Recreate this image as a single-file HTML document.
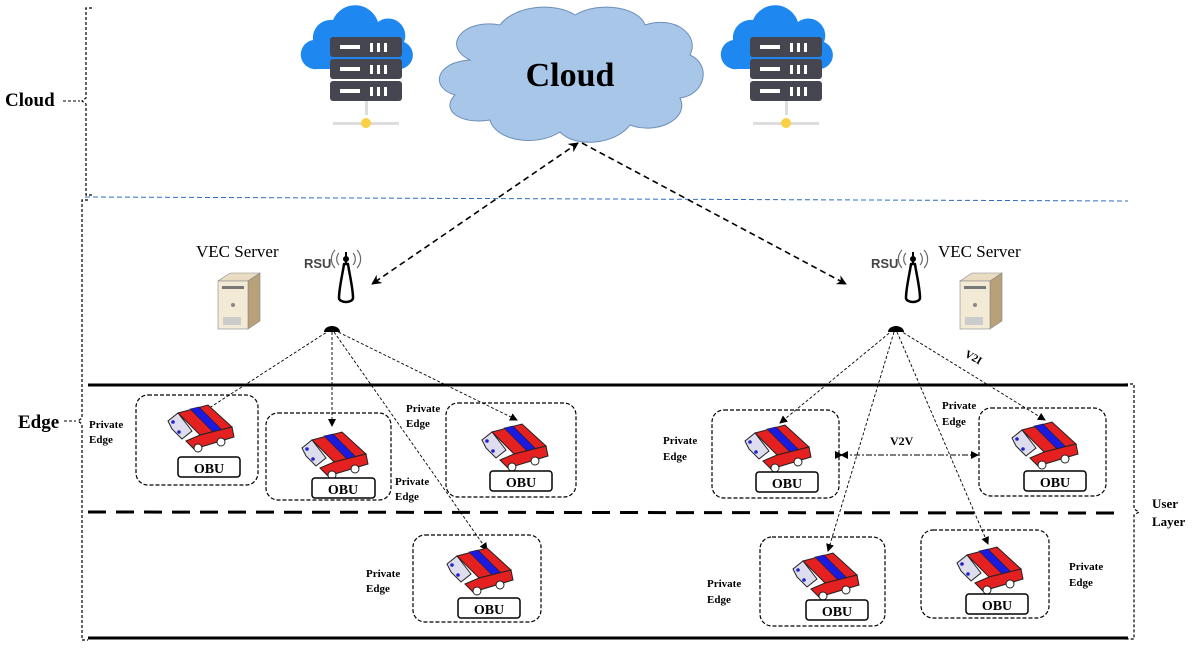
<!DOCTYPE html>
<html><head><meta charset="utf-8"><style>
html,body{margin:0;padding:0;background:#fff;}
svg{display:block;font-family:"Liberation Serif",serif;}
.b{font-weight:bold;}
</style></head><body>
<svg width="1196" height="662" viewBox="0 0 1196 662" xmlns="http://www.w3.org/2000/svg">
<defs>
<marker id="ar" markerWidth="8" markerHeight="8" refX="7" refY="4" orient="auto" markerUnits="userSpaceOnUse"><path d="M0,0 L8,4 L0,8 Z" fill="#000"/></marker>
<marker id="ar2" markerWidth="10" markerHeight="10" refX="9" refY="5" orient="auto" markerUnits="userSpaceOnUse"><path d="M0,0 L10,5 L0,10 L3,5 Z" fill="#000"/></marker>
<marker id="ar2s" markerWidth="10" markerHeight="10" refX="1" refY="5" orient="auto" markerUnits="userSpaceOnUse"><path d="M10,0 L0,5 L10,10 L7,5 Z" fill="#000"/></marker>
<g id="car">
<polygon points="10,8 40,0 64,22 32,30" fill="#e52020" stroke="#222" stroke-width="1"/>
<polygon points="22,4 31,2 54,25 45,27" fill="#1a1ae0" stroke="#222" stroke-width="0.6"/>
<polygon points="18,36 32,30 64,22 66,32 26,44" fill="#e52020" stroke="#222" stroke-width="1"/>
<polygon points="0,16 10,8 24,26 14,34 4,24" fill="#dde" stroke="#222" stroke-width="1"/>
<circle cx="5" cy="17" r="1.8" fill="#22c"/><circle cx="11" cy="27" r="1.8" fill="#22c"/>
<circle cx="30" cy="43" r="4" fill="#fff" stroke="#222"/><circle cx="53" cy="37" r="4" fill="#fff" stroke="#222"/>
</g>
<g id="srv">
<path d="M5,35 a18,18 0 0 1 20,-20 a24,24 0 0 1 45,2 a17,17 0 0 1 26,20 a14,14 0 0 1 -6,27 h-80 a14,14 0 0 1 -5,-29z" fill="#1e88f0"/>
<rect x="22" y="32" width="72" height="20" rx="3" fill="#45464f"/>
<rect x="22" y="54" width="72" height="20" rx="3" fill="#45464f"/>
<rect x="22" y="76" width="72" height="20" rx="3" fill="#45464f"/>
<g fill="#fff"><rect x="32" y="40" width="20" height="4"/><rect x="32" y="62" width="20" height="4"/><rect x="32" y="84" width="20" height="4"/>
<rect x="62" y="38" width="3" height="9"/><rect x="69" y="38" width="3" height="9"/><rect x="76" y="38" width="3" height="9"/>
<rect x="62" y="60" width="3" height="9"/><rect x="69" y="60" width="3" height="9"/><rect x="76" y="60" width="3" height="9"/>
<rect x="62" y="82" width="3" height="9"/><rect x="69" y="82" width="3" height="9"/><rect x="76" y="82" width="3" height="9"/></g>
<rect x="57" y="96" width="3" height="14" fill="#ddd"/><rect x="25" y="117" width="66" height="3" fill="#ddd"/>
<circle cx="58" cy="118" r="5" fill="#fcd043"/>
</g>
<g id="pc">
<polygon points="0,8 12,0 42,0 30,8" fill="#e9dcc2" stroke="#888" stroke-width=".6"/>
<polygon points="30,8 42,0 42,48 30,56" fill="#b8a078" stroke="#888" stroke-width=".6"/>
<rect x="0" y="8" width="30" height="48" fill="#f3ead6" stroke="#888" stroke-width=".6"/>
<rect x="4" y="13" width="22" height="3" fill="#777"/><circle cx="15" cy="32" r="2" fill="#888"/>
<rect x="5" y="44" width="18" height="8" fill="#ccc"/>
</g>
<g id="rsu">
<text x="-36" y="16" font-family="Liberation Sans,sans-serif" font-weight="bold" font-size="13" fill="#444">RSU</text>
<path d="M4,12 C3,20 -1,36 -1,46 a7,4 0 0 0 14,0 C13,36 9,20 8,12 Z" fill="#fff" stroke="#000" stroke-width="2.5" stroke-linejoin="round"/>
<rect x="5" y="0" width="2" height="12" fill="#000"/>
<circle cx="6" cy="7" r="3" fill="#000"/>
<path d="M-1,1 a9,9 0 0 0 0,12 M13,1 a9,9 0 0 1 0,12 M-5,-2 a13,13 0 0 0 0,18 M17,-2 a13,13 0 0 1 0,18" stroke="#666" stroke-width="1.2" fill="none"/>
</g>
</defs>

<path d="M470,60 C440,45 465,18 500,25 C515,5 555,2 575,15 C600,0 640,8 645,25 C675,15 700,35 690,55 C712,65 705,95 680,98 C690,120 655,135 630,125 C615,145 575,148 560,132 C535,148 495,140 490,120 C460,125 440,110 455,95 C430,88 435,62 470,60 Z" fill="#a8c6e8" stroke="#6c8fb8" stroke-width="1"/>
<text x="570" y="86" text-anchor="middle" class="b" font-size="34">Cloud</text>
<use href="#srv" x="308" y="5"/>
<use href="#srv" x="728" y="5"/>

<path d="M92,8 h-6 v90 l-4,3 l4,3 v91 h6" fill="none" stroke="#000" stroke-dasharray="3,2" stroke-width="1.2"/>
<text x="5" y="106" class="b" font-size="19">Cloud</text>
<line x1="63" y1="101" x2="80" y2="101" stroke="#000" stroke-dasharray="3,2"/>
<path d="M88,200 h-6 v218 l-4,3 l4,3 v216 h6" fill="none" stroke="#000" stroke-dasharray="3,2" stroke-width="1.2"/>
<text x="18" y="428" class="b" font-size="19">Edge</text>
<line x1="64" y1="421" x2="76" y2="421" stroke="#000" stroke-dasharray="3,2"/>
<path d="M1125,384 h9 v125 l5,3 l-5,3 v124 h-9" fill="none" stroke="#000" stroke-dasharray="3,2" stroke-width="1.2"/>
<text x="1152" y="508" font-size="13" class="b">User</text>
<text x="1152" y="526" font-size="13" class="b">Layer</text>

<line x1="85" y1="197" x2="1128" y2="201" stroke="#2f6cc0" stroke-dasharray="5,3" stroke-width="1"/>
<line x1="88" y1="385" x2="1128" y2="385" stroke="#000" stroke-width="3"/>
<line x1="88" y1="512" x2="1115" y2="513" stroke="#000" stroke-width="3" stroke-dasharray="18,10"/>
<line x1="88" y1="638" x2="1128" y2="638" stroke="#000" stroke-width="3"/>

<text x="196" y="257" font-size="17">VEC Server</text>
<use href="#pc" x="218" y="273"/>
<use href="#rsu" x="340" y="252"/>
<text x="938" y="257" font-size="17">VEC Server</text>
<use href="#pc" x="960" y="273"/>
<use href="#rsu" x="907" y="252"/>
<path d="M324,332 a8,6 0 0 1 16,0 z" fill="#000"/>
<path d="M888,332 a8,6 0 0 1 16,0 z" fill="#000"/>

<g stroke="#000" stroke-width="1.6" stroke-dasharray="6,4" fill="none">
<line x1="578" y1="143" x2="372" y2="284" marker-end="url(#ar2)" marker-start="url(#ar2s)"/>
<line x1="582" y1="143" x2="846" y2="284" marker-end="url(#ar2)"/>
</g>

<g stroke="#000" stroke-width="0.9" stroke-dasharray="3,2" fill="none" marker-end="url(#ar)">
<line x1="330" y1="330" x2="203" y2="412"/>
<line x1="332" y1="332" x2="332" y2="426"/>
<line x1="334" y1="330" x2="517" y2="420"/>
<line x1="334" y1="332" x2="487" y2="550"/>
<line x1="893" y1="330" x2="780" y2="423"/>
<line x1="894" y1="332" x2="828" y2="551"/>
<line x1="897" y1="332" x2="988" y2="544"/>
<line x1="899" y1="330" x2="1045" y2="420"/>
</g>
<text x="965" y="360" font-size="11" class="b" transform="rotate(30 972 356)">V2I</text>
<line x1="842" y1="455" x2="978" y2="455" stroke="#000" stroke-width="0.9" stroke-dasharray="6,2,2,2" marker-end="url(#ar)" marker-start="url(#ar)"/>
<path d="M848,451 L840,455 L848,459 Z" fill="#000"/>
<text x="890" y="445" font-size="12" class="b">V2V</text>

<g fill="none" stroke="#000" stroke-width="1.2" stroke-dasharray="4,2">
<rect x="136" y="395" width="122" height="90" rx="12"/>
<rect x="266" y="413" width="125" height="87" rx="12"/>
<rect x="446" y="403" width="130" height="94" rx="12"/>
<rect x="413" y="535" width="128" height="87" rx="12"/>
<rect x="712" y="410" width="127" height="88" rx="12"/>
<rect x="979" y="408" width="127" height="88" rx="12"/>
<rect x="760" y="537" width="125" height="89" rx="12"/>
<rect x="921" y="530" width="128" height="88" rx="12"/>
</g>
<use href="#car" x="168" y="405"/>
<use href="#car" x="302" y="432"/>
<use href="#car" x="482" y="424"/>
<use href="#car" x="447" y="548"/>
<use href="#car" x="745" y="425"/>
<use href="#car" x="1012" y="422"/>
<use href="#car" x="793" y="553"/>
<use href="#car" x="957" y="547"/>
<g fill="#fff" stroke="#000" stroke-width="1.5">
<rect x="178" y="457" width="62" height="20" rx="3"/>
<rect x="312" y="478" width="63" height="20" rx="3"/>
<rect x="490" y="471" width="62" height="20" rx="3"/>
<rect x="458" y="598" width="62" height="20" rx="3"/>
<rect x="756" y="472" width="62" height="20" rx="3"/>
<rect x="1024" y="471" width="62" height="20" rx="3"/>
<rect x="806" y="600" width="62" height="20" rx="3"/>
<rect x="966" y="594" width="62" height="20" rx="3"/>
</g>
<g font-size="14" class="b" text-anchor="middle">
<text x="209" y="473">OBU</text><text x="343" y="494">OBU</text><text x="521" y="487">OBU</text>
<text x="489" y="614">OBU</text><text x="787" y="488">OBU</text><text x="1055" y="487">OBU</text>
<text x="837" y="616">OBU</text><text x="997" y="610">OBU</text>
</g>
<g font-size="11" class="b">
<text x="89" y="428">Private</text><text x="89" y="443">Edge</text>
<text x="406" y="412">Private</text><text x="406" y="427">Edge</text>
<text x="395" y="485">Private</text><text x="395" y="500">Edge</text>
<text x="366" y="577">Private</text><text x="366" y="592">Edge</text>
<text x="663" y="444">Private</text><text x="663" y="460">Edge</text>
<text x="942" y="409">Private</text><text x="942" y="425">Edge</text>
<text x="707" y="587">Private</text><text x="707" y="603">Edge</text>
<text x="1069" y="570">Private</text><text x="1069" y="586">Edge</text>
</g>
</svg>
</body></html>
